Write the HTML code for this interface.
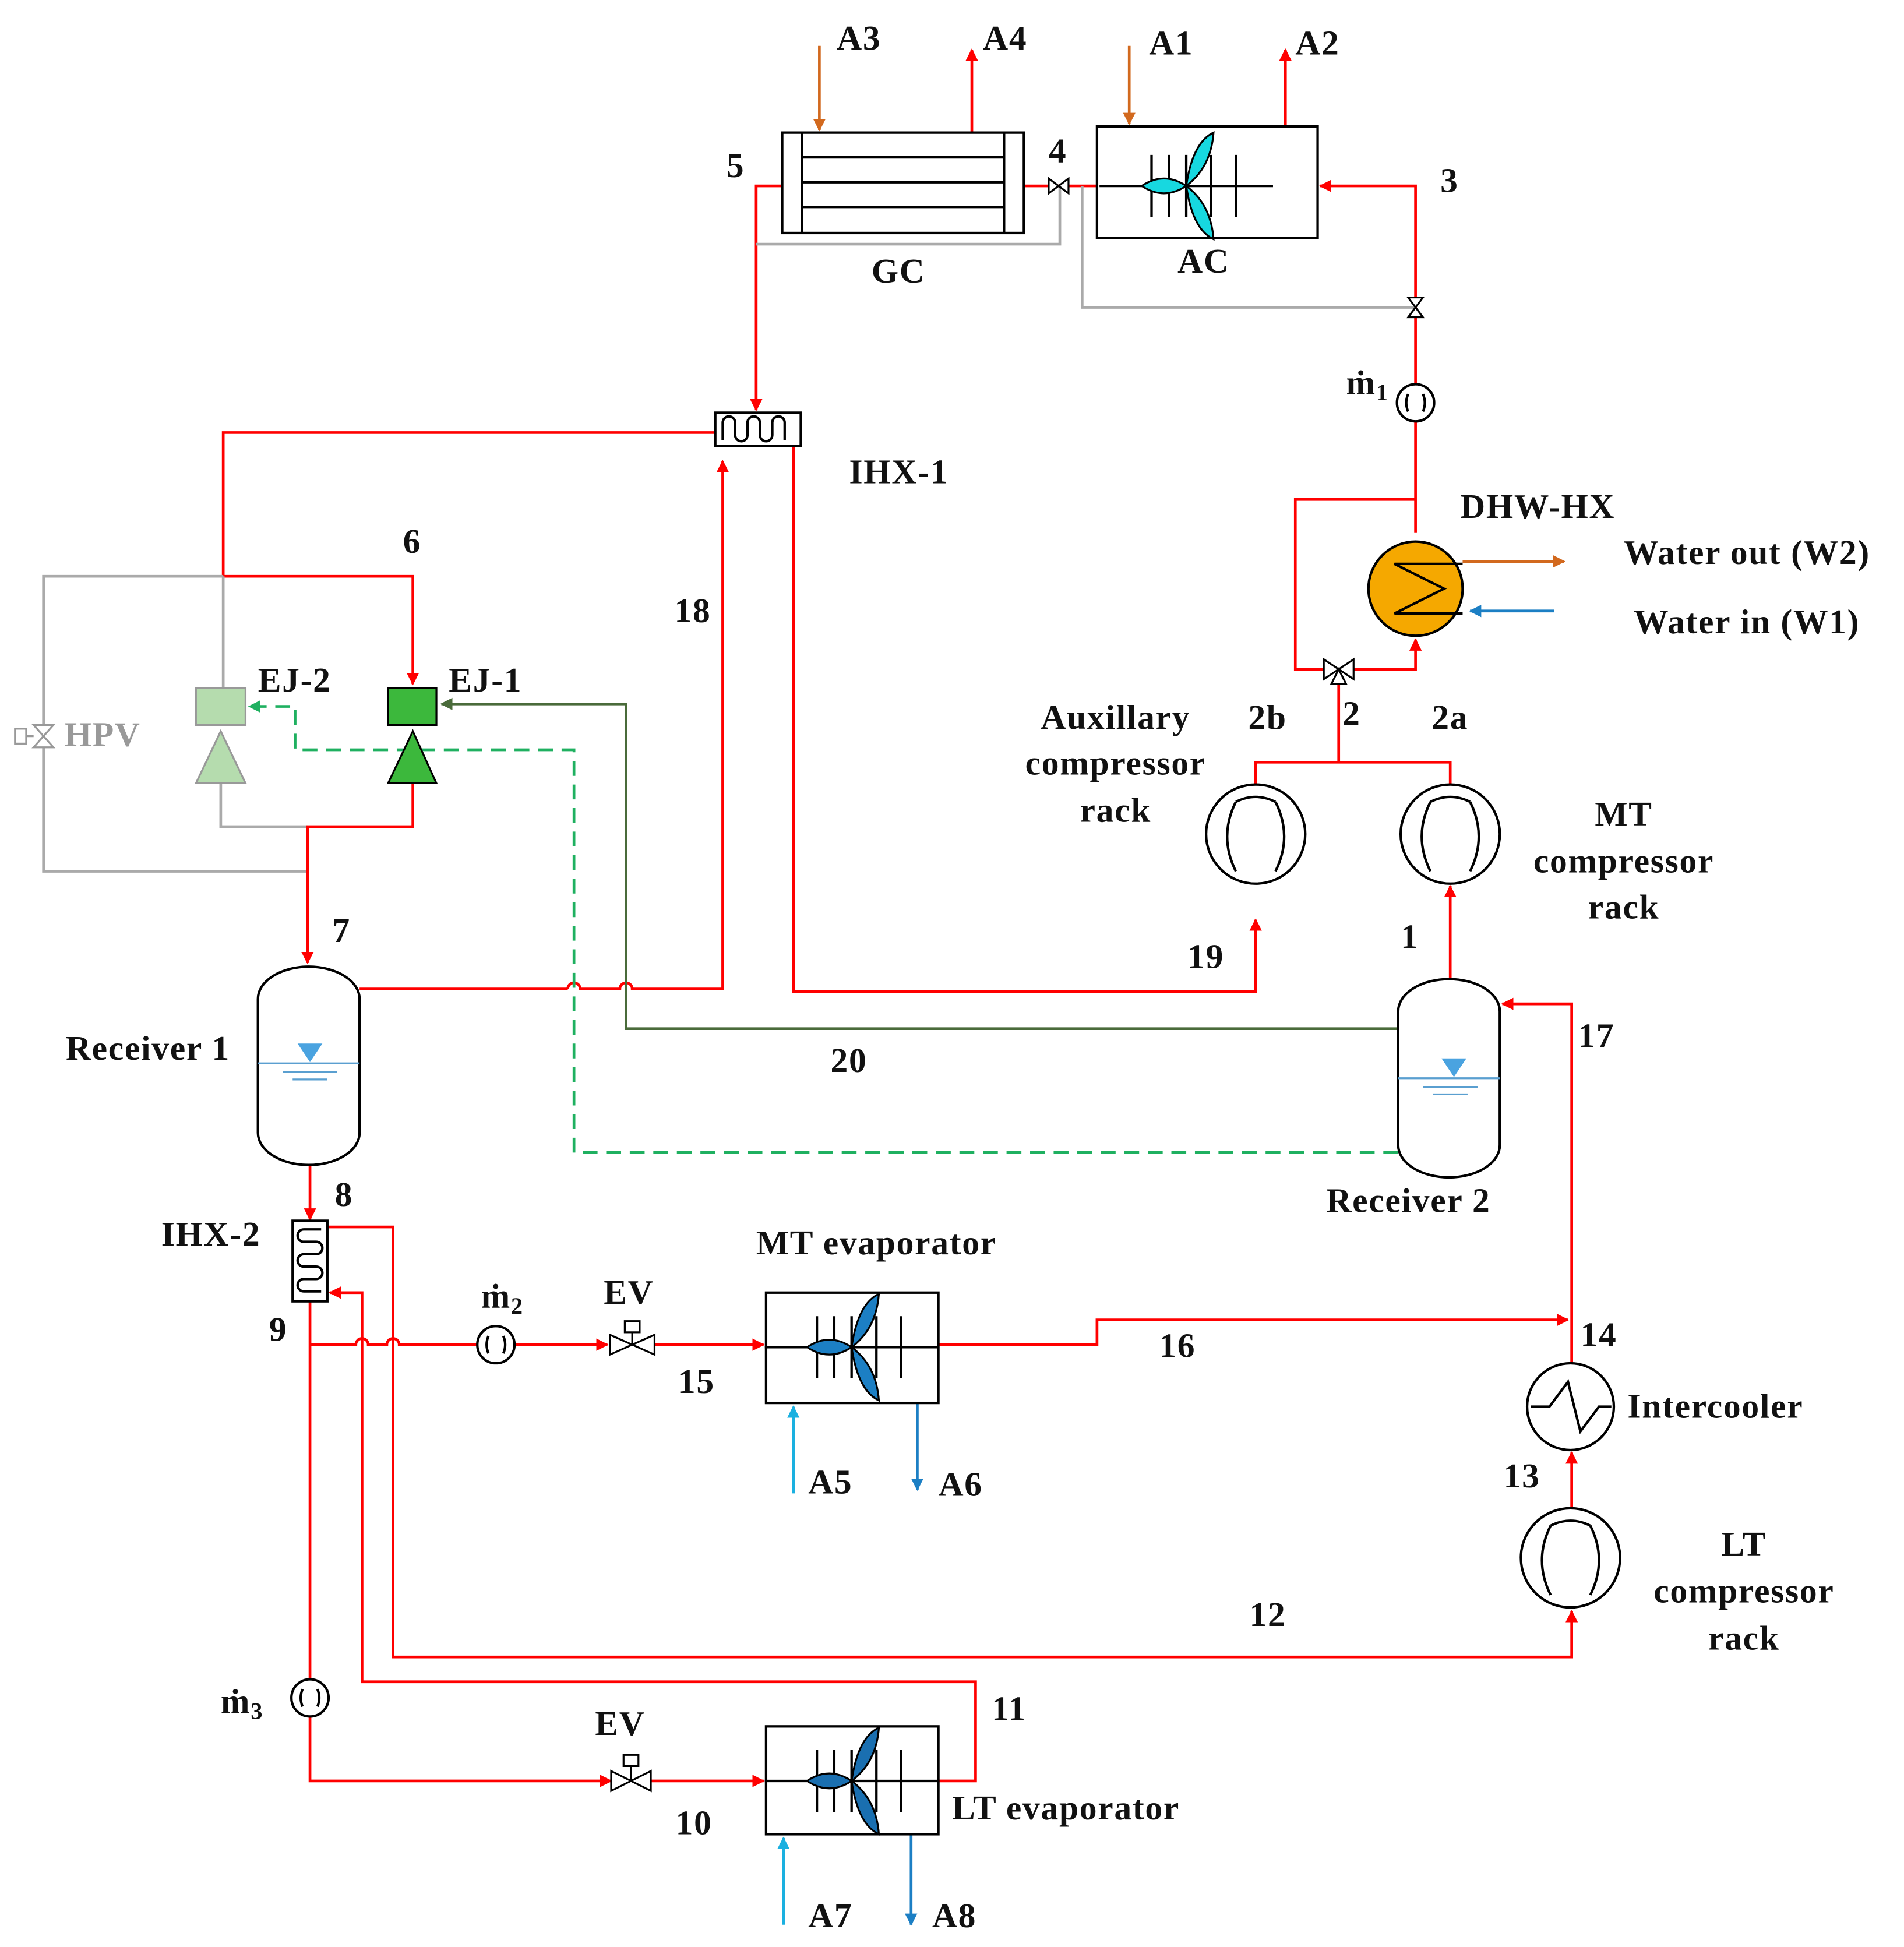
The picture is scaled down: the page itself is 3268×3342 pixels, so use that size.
<!DOCTYPE html>
<html><head><meta charset="utf-8"><style>
html,body{margin:0;padding:0;background:#fff}
svg{display:block}
text{font-family:"Liberation Serif",serif;font-weight:bold;font-size:28px;letter-spacing:0.8px;fill:#111}
</style></head><body>
<svg width="3268" height="3342" viewBox="0 0 1536 1571" xmlns="http://www.w3.org/2000/svg">
<defs>
<marker id="ar" markerWidth="10" markerHeight="10" refX="9" refY="5" orient="auto" markerUnits="userSpaceOnUse" viewBox="0 0 10 10"><path d="M0,0L10,5L0,10z" fill="#f00"/></marker>
<marker id="ao" markerWidth="10" markerHeight="10" refX="9" refY="5" orient="auto" markerUnits="userSpaceOnUse" viewBox="0 0 10 10"><path d="M0,0L10,5L0,10z" fill="#d2691e"/></marker>
<marker id="ab" markerWidth="10" markerHeight="10" refX="9" refY="5" orient="auto" markerUnits="userSpaceOnUse" viewBox="0 0 10 10"><path d="M0,0L10,5L0,10z" fill="#1c7fc4"/></marker>
<marker id="ac" markerWidth="10" markerHeight="10" refX="9" refY="5" orient="auto" markerUnits="userSpaceOnUse" viewBox="0 0 10 10"><path d="M0,0L10,5L0,10z" fill="#1ab0e0"/></marker>
<marker id="ag" markerWidth="10" markerHeight="10" refX="9" refY="5" orient="auto" markerUnits="userSpaceOnUse" viewBox="0 0 10 10"><path d="M0,0L10,5L0,10z" fill="#4a6b3a"/></marker>
<marker id="agd" markerWidth="10" markerHeight="10" refX="9" refY="5" orient="auto" markerUnits="userSpaceOnUse" viewBox="0 0 10 10"><path d="M0,0L10,5L0,10z" fill="#1fb060"/></marker>
<g id="fan">
<line x1="-70" y1="0" x2="70" y2="0" stroke="#000" stroke-width="2"/>
<line x1="-28" y1="-25" x2="-28" y2="25" stroke="#000" stroke-width="2"/>
<line x1="-14" y1="-25" x2="-14" y2="25" stroke="#000" stroke-width="2"/>
<line x1="0" y1="-25" x2="0" y2="25" stroke="#000" stroke-width="2"/>
<line x1="20" y1="-25" x2="20" y2="25" stroke="#000" stroke-width="2"/>
<line x1="40" y1="-25" x2="40" y2="25" stroke="#000" stroke-width="2"/>
<path d="M0,0 Q-18,-12 -36,0 Q-18,12 0,0z" stroke="#000" stroke-width="1.5"/>
<path d="M0,0 Q5,-35 22,-43 Q20,-15 0,0z" stroke="#000" stroke-width="1.5"/>
<path d="M0,0 Q5,35 22,43 Q20,15 0,0z" stroke="#000" stroke-width="1.5"/>
</g>
<g id="comp" fill="none" stroke="#000" stroke-width="2">
<path d="M-16,28 Q-30,0 -16,-28"/>
<path d="M16,28 Q30,0 16,-28"/>
<path d="M-16,-28 Q0,-36 16,-28"/>
</g>
</defs>
<g fill="none" stroke-width="2.2">
<polyline points="1142,430 1142,150 1065,150" stroke="#f00" marker-end="url(#ar)"/>
<line x1="885" y1="150" x2="826" y2="150" stroke="#f00"/>
<polyline points="631,150 610,150 610,331" stroke="#f00" marker-end="url(#ar)"/>
<polyline points="855,150 855,197 610,197" stroke="#aaa"/>
<polyline points="873,150 873,248 1142,248" stroke="#aaa"/>
<polyline points="577,349 180,349 180,465 333,465 333,552" stroke="#f00" marker-end="url(#ar)"/>
<polyline points="640,360 640,800 1013,800 1013,742" stroke="#f00" marker-end="url(#ar)"/>
<polyline points="290,798 458,798" stroke="#f00"/>
<path d="M458,798 a5,5 0 0 1 10,0 L500,798 a5,5 0 0 1 10,0 L583,798 583,372" stroke="#f00" marker-end="url(#ar)"/>
<polyline points="180,465 35,465 35,703 248,703" stroke="#aaa"/>
<line x1="180" y1="465" x2="180" y2="555" stroke="#aaa"/>
<polyline points="178,632 178,667 248,667" stroke="#aaa"/>
<polyline points="333,632 333,667 248,667 248,777" stroke="#f00" marker-end="url(#ar)"/>
<polyline points="1128,830 505,830 505,568 356,568" stroke="#4a6b3a" marker-end="url(#ag)"/>
<polyline points="1128,930 463,930 463,605 238,605 238,570 201,570" stroke="#1fb060" stroke-dasharray="12,7" marker-end="url(#agd)"/>
<polyline points="1013,633 1013,615 1170,615 1170,633" stroke="#f00"/>
<line x1="1080" y1="615" x2="1080" y2="545" stroke="#f00"/>
<polyline points="1070,540 1045,540 1045,403 1142,403" stroke="#f00"/>
<polyline points="1090,540 1142,540 1142,516" stroke="#f00" marker-end="url(#ar)"/>
<line x1="1170" y1="790" x2="1170" y2="715" stroke="#f00" marker-end="url(#ar)"/>
<line x1="1180" y1="453" x2="1262" y2="453" stroke="#d2691e" marker-end="url(#ao)"/>
<line x1="1254" y1="493" x2="1186" y2="493" stroke="#1c7fc4" marker-end="url(#ab)"/>
<line x1="250" y1="940" x2="250" y2="984" stroke="#f00" marker-end="url(#ar)"/>
<polyline points="250,1050 250,1437 493,1437" stroke="#f00" marker-end="url(#ar)"/>
<line x1="525" y1="1437" x2="616" y2="1437" stroke="#f00" marker-end="url(#ar)"/>
<path d="M250,1085 L287,1085 a5,5 0 0 1 10,0 L312,1085 a5,5 0 0 1 10,0 L385,1085" stroke="#f00"/>
<line x1="415" y1="1085" x2="490" y2="1085" stroke="#f00" marker-end="url(#ar)"/>
<line x1="528" y1="1085" x2="616" y2="1085" stroke="#f00" marker-end="url(#ar)"/>
<polyline points="757,1085 885,1085 885,1065 1265,1065" stroke="#f00" marker-end="url(#ar)"/>
<polyline points="264,990 317,990 317,1337 1268,1337 1268,1300" stroke="#f00" marker-end="url(#ar)"/>
<polyline points="757,1437 787,1437 787,1357 292,1357 292,1043 266,1043" stroke="#f00" marker-end="url(#ar)"/>
<line x1="1268" y1="1217" x2="1268" y2="1172" stroke="#f00" marker-end="url(#ar)"/>
<polyline points="1268,1100 1268,810 1212,810" stroke="#f00" marker-end="url(#ar)"/>
<line x1="661" y1="37" x2="661" y2="105" stroke="#d2691e" marker-end="url(#ao)"/>
<line x1="784" y1="107" x2="784" y2="40" stroke="#f00" marker-end="url(#ar)"/>
<line x1="911" y1="37" x2="911" y2="100" stroke="#d2691e" marker-end="url(#ao)"/>
<line x1="1037" y1="102" x2="1037" y2="40" stroke="#f00" marker-end="url(#ar)"/>
<line x1="640" y1="1205" x2="640" y2="1135" stroke="#1ab0e0" marker-end="url(#ac)"/>
<line x1="740" y1="1132" x2="740" y2="1202" stroke="#1c7fc4" marker-end="url(#ab)"/>
<line x1="632" y1="1553" x2="632" y2="1483" stroke="#1ab0e0" marker-end="url(#ac)"/>
<line x1="735" y1="1480" x2="735" y2="1553" stroke="#1c7fc4" marker-end="url(#ab)"/>
</g>
<g fill="#fff" stroke="#000" stroke-width="2">
<rect x="631" y="107" width="195" height="81"/>
<line x1="647" y1="107" x2="647" y2="188"/><line x1="810" y1="107" x2="810" y2="188"/>
<line x1="647" y1="127" x2="810" y2="127"/><line x1="647" y1="147" x2="810" y2="147"/><line x1="647" y1="167" x2="810" y2="167"/>
<rect x="885" y="102" width="178" height="90"/>
<rect x="618" y="1043" width="139" height="89"/>
<rect x="618" y="1393" width="139" height="87"/>
<rect x="577" y="333" width="69" height="27"/>
<path d="M583,355 v-14 a5,5 0 0 1 10,0 v10 a5,5 0 0 0 10,0 v-10 a5,5 0 0 1 10,0 v10 a5,5 0 0 0 10,0 v-10 a5,5 0 0 1 10,0 v14" fill="none"/>
<rect x="236" y="985" width="28" height="65"/>
<path d="M259,992 h-14 a5,5 0 0 0 0,10 h10 a5,5 0 0 1 0,10 h-10 a5,5 0 0 0 0,10 h10 a5,5 0 0 1 0,10 h-10 a5,5 0 0 0 0,10 h14" fill="none"/>
<rect x="208" y="780" width="82" height="160" rx="41" ry="26"/>
<rect x="1128" y="790" width="82" height="160" rx="41" ry="26"/>
<circle cx="1013" cy="673" r="40"/><circle cx="1170" cy="673" r="40"/><circle cx="1267" cy="1257" r="40"/>
<circle cx="1267" cy="1135" r="35"/>
<circle cx="1142" cy="325" r="15"/><circle cx="400" cy="1085" r="15"/><circle cx="250" cy="1370" r="15"/>
</g>
<use href="#comp" x="1013" y="675"/>
<use href="#comp" x="1170" y="675"/>
<use href="#comp" x="1267" y="1259"/>
<g fill="none" stroke="#000" stroke-width="2">
<path d="M1235,1135 L1250,1135 L1265,1115 L1275,1155 L1290,1135 L1300,1135"/>
<path d="M1136,318 q-3,7 0,14 M1148,318 q3,7 0,14 M394,1078 q-3,7 0,14 M406,1078 q3,7 0,14 M244,1363 q-3,7 0,14 M256,1363 q3,7 0,14"/>
</g>
<use href="#fan" x="957" y="150" fill="#17d8e0"/>
<use href="#fan" x="687" y="1087" fill="#1c7fc4"/>
<use href="#fan" x="687" y="1437" fill="#1a6fb0"/>
<g stroke="#5a9fd0" stroke-width="1.5">
<line x1="208" y1="858" x2="290" y2="858"/><line x1="228" y1="865" x2="272" y2="865"/><line x1="236" y1="871" x2="264" y2="871"/>
<line x1="1128" y1="870" x2="1210" y2="870"/><line x1="1148" y1="877" x2="1192" y2="877"/><line x1="1156" y1="883" x2="1184" y2="883"/>
</g>
<path d="M240,842 L260,842 L250,857z" fill="#4aa3e0"/>
<path d="M1163,854 L1183,854 L1173,869z" fill="#4aa3e0"/>
<circle cx="1142" cy="475" r="38" fill="#f5a800" stroke="#000" stroke-width="2"/>
<path d="M1180,455 L1125,455 L1165,475 L1125,495 L1180,495" fill="none" stroke="#000" stroke-width="2"/>
<rect x="313" y="555" width="39" height="30" fill="#3cb83c" stroke="#000" stroke-width="1.5"/>
<path d="M333,590 L313,632 L352,632z" fill="#3cb83c" stroke="#000" stroke-width="1.5"/>
<rect x="158" y="555" width="40" height="30" fill="#b5dcae" stroke="#999" stroke-width="1.5"/>
<path d="M178,590 L158,632 L198,632z" fill="#b5dcae" stroke="#999" stroke-width="1.5"/>
<g stroke="#000" stroke-width="1.5" fill="#fff">
<path d="M492,1077 L492,1093 L528,1077 L528,1093z"/><line x1="510" y1="1085" x2="510" y2="1073"/><rect x="504" y="1066" width="12" height="9"/>
<path d="M493,1429 L493,1445 L525,1429 L525,1445z"/><line x1="509" y1="1437" x2="509" y2="1425"/><rect x="503" y="1416" width="12" height="9"/>
<path d="M1068,532 L1068,548 L1092,532 L1092,548z"/><path d="M1074,552 L1086,552 L1080,540z"/>
<path d="M846,144 L846,156 L862,144 L862,156z"/>
<path d="M1136,240 L1148,240 L1136,256 L1148,256z"/>
</g>
<g stroke="#999" stroke-width="1.5" fill="#fff">
<path d="M27,585 L43,585 L27,603 L43,603z"/><line x1="27" y1="594" x2="18" y2="594"/><rect x="12" y="588" width="9" height="12"/>
</g>
<text x="675" y="40">A3</text><text x="793" y="40">A4</text>
<text x="927" y="44">A1</text><text x="1045" y="44">A2</text>
<text x="586" y="143">5</text><text x="846" y="131">4</text><text x="1162" y="155">3</text>
<text x="703" y="228">GC</text><text x="950" y="220">AC</text>
<text x="1086" y="318">ṁ<tspan font-size="19" dy="5">1</tspan></text>
<text x="685" y="390">IHX-1</text>
<text x="1178" y="418">DHW-HX</text>
<text x="1310" y="455">Water out (W2)</text>
<text x="1318" y="511">Water in (W1)</text>
<text x="325" y="446">6</text><text x="544" y="502">18</text>
<text x="208" y="558">EJ-2</text><text x="362" y="558">EJ-1</text>
<text x="52" y="602" style="fill:#999">HPV</text>
<text x="1007" y="588">2b</text><text x="1083" y="585">2</text><text x="1155" y="588">2a</text>
<text x="900" y="588" text-anchor="middle">Auxillary</text>
<text x="900" y="625" text-anchor="middle">compressor</text>
<text x="900" y="663" text-anchor="middle">rack</text>
<text x="1310" y="666" text-anchor="middle">MT</text>
<text x="1310" y="704" text-anchor="middle">compressor</text>
<text x="1310" y="741" text-anchor="middle">rack</text>
<text x="268" y="760">7</text><text x="958" y="781">19</text><text x="1130" y="765">1</text>
<text x="53" y="855">Receiver 1</text><text x="670" y="865">20</text><text x="1273" y="845">17</text>
<text x="1070" y="978">Receiver 2</text>
<text x="270" y="973">8</text><text x="130" y="1005">IHX-2</text><text x="217" y="1082">9</text>
<text x="610" y="1012">MT evaporator</text>
<text x="388" y="1055">ṁ<tspan font-size="19" dy="5">2</tspan></text>
<text x="487" y="1052">EV</text>
<text x="935" y="1095">16</text><text x="547" y="1124">15</text><text x="1275" y="1086">14</text>
<text x="1313" y="1144">Intercooler</text>
<text x="652" y="1205">A5</text><text x="757" y="1207">A6</text>
<text x="1213" y="1200">13</text>
<text x="1407" y="1255" text-anchor="middle">LT</text>
<text x="1407" y="1293" text-anchor="middle">compressor</text>
<text x="1407" y="1331" text-anchor="middle">rack</text>
<text x="1008" y="1312">12</text>
<text x="178" y="1382">ṁ<tspan font-size="19" dy="5">3</tspan></text>
<text x="800" y="1388">11</text><text x="480" y="1400">EV</text>
<text x="545" y="1480">10</text><text x="768" y="1468">LT evaporator</text>
<text x="652" y="1555">A7</text><text x="752" y="1555">A8</text>
</svg>
</body></html>
